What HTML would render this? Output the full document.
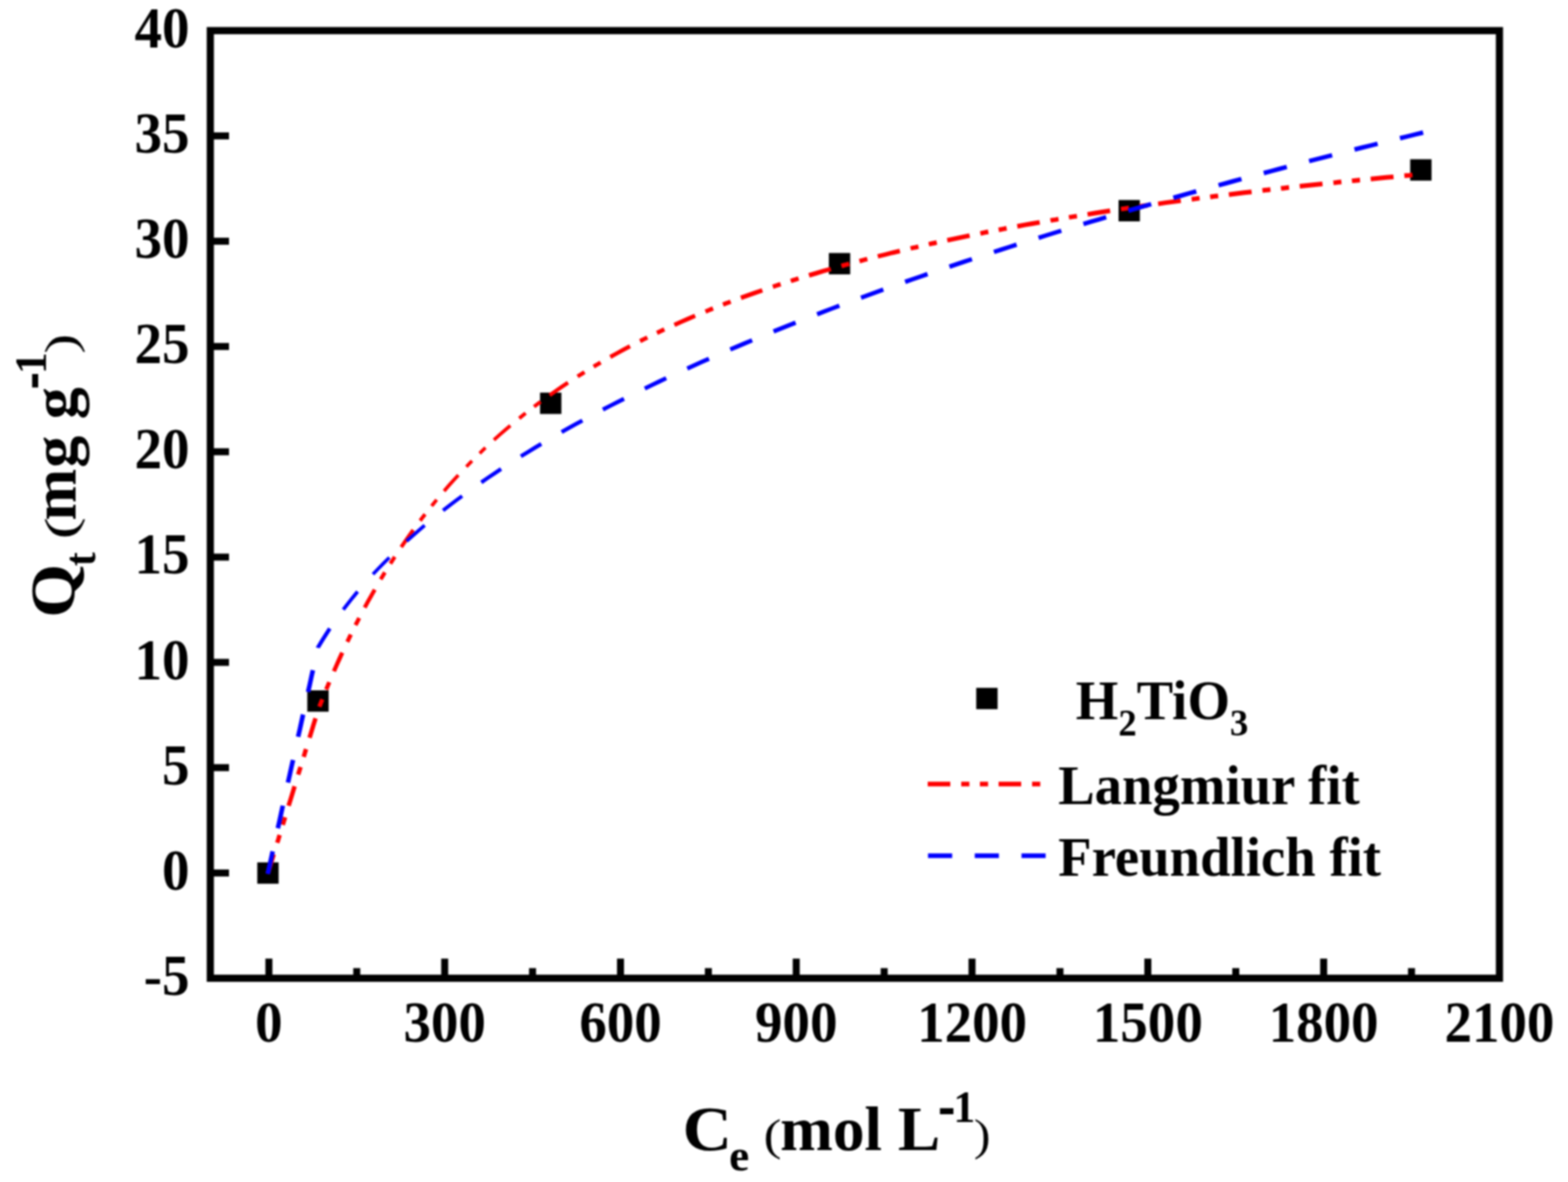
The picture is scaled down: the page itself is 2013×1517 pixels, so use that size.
<!DOCTYPE html>
<html lang="en"><head><meta charset="utf-8"><title>Adsorption isotherm</title>
<style>
html,body{margin:0;padding:0;background:#fff;}
body{width:2013px;height:1517px;overflow:hidden;}
svg{display:block;filter:blur(0.8px);}
text{font-family:"Liberation Serif","DejaVu Serif",serif;font-weight:bold;fill:#000;}
.r{font-weight:normal;}
</style></head><body>
<svg width="2013" height="1517" viewBox="0 0 2013 1517">
<rect width="2013" height="1517" fill="#fff"/>
<g id="markers" fill="#000">
<rect x="330.3" y="1106.8" width="27.4" height="27.4"/>
<rect x="394.5" y="886.0" width="27.4" height="27.4"/>
<rect x="693.3" y="503.9" width="27.4" height="27.4"/>
<rect x="1064.1" y="324.7" width="27.4" height="27.4"/>
<rect x="1436.0" y="256.7" width="27.4" height="27.4"/>
<rect x="1810.4" y="204.4" width="27.4" height="27.4"/>
</g>
<g id="langmuir" fill="none" stroke="#f00">
<path stroke-width="4.4" d="M598.7,598.9L601.1,596.4L603.6,593.9L606.0,591.4M615.8,581.8L618.3,579.4L620.8,576.9L623.3,574.6"/>
<path stroke-width="4.5" d="M570.1,630.2L576.1,623.3L582.2,616.5L588.4,609.8M634.1,564.6L641.0,558.4L648.1,552.2L655.2,546.2"/>
<path stroke-width="4.6" d="M554.1,649.4L556.3,646.7L558.4,644.1L560.6,641.4"/>
<path stroke-width="4.7" d="M666.6,536.8L669.4,534.6L672.1,532.4L674.8,530.2"/>
<path stroke-width="4.8" d="M539.4,668.2L541.5,665.4L543.6,662.7L545.7,660.0M685.6,521.9L688.4,519.8L691.2,517.7L694.0,515.6"/>
<path stroke-width="4.9" d="M515.1,702.2L520.1,694.8L525.3,687.5L530.5,680.2"/>
<path stroke-width="5.0" d="M501.2,723.3L503.1,720.4L505.0,717.5L506.8,714.6M705.7,507.2L713.5,501.7L721.3,496.4L729.2,491.1"/>
<path stroke-width="5.1" d="M488.7,743.5L490.5,740.6L492.3,737.6L494.1,734.7M741.5,483.2L744.4,481.3L747.4,479.5L750.4,477.6"/>
<path stroke-width="5.2" d="M468.2,779.8L472.4,772.1L476.7,764.4L481.1,756.7M762.1,470.5L765.1,468.7L768.1,467.0L771.1,465.2"/>
<path stroke-width="5.3" d="M456.4,802.3L458.0,799.2L459.6,796.2L461.1,793.1M783.5,458.1L791.9,453.5L800.3,448.9L808.8,444.4"/>
<path stroke-width="5.4" d="M445.9,823.7L447.4,820.6L448.9,817.5L450.4,814.4M821.7,437.8L824.8,436.3L828.0,434.7L831.1,433.2M843.4,427.2L846.6,425.7L849.7,424.2L852.9,422.7"/>
<path stroke-width="5.5" d="M418.8,885.0L420.1,881.8L421.4,878.7L422.7,875.5M428.7,861.5L432.2,853.5L435.8,845.5L439.4,837.6M865.8,416.9L874.6,412.9L883.5,409.1L892.4,405.3"/>
<path stroke-width="5.6" d="M410.0,907.1L411.2,903.9L412.5,900.7L413.8,897.5M905.7,399.8L909.0,398.5L912.2,397.2L915.4,395.9M928.2,390.9L931.4,389.7L934.7,388.5L938.0,387.2"/>
<path stroke-width="5.7" d="M343.7,1121.4L346.2,1113.1L348.8,1104.8L351.4,1096.4M355.9,1081.6L357.0,1078.3L358.0,1075.0L359.0,1071.6M363.0,1058.7L364.0,1055.4L365.0,1052.1L366.0,1048.8M370.5,1034.1L373.1,1025.8L375.7,1017.4L378.2,1009.1M382.8,994.2L383.8,990.9L384.8,987.6L385.9,984.3M389.9,971.4L390.9,968.0L391.9,964.7L392.9,961.4M397.4,946.8L400.0,938.4L402.5,930.1L405.1,921.8M951.2,382.3L960.3,379.0L969.5,375.8L978.7,372.6M992.2,368.0L995.6,366.9L998.9,365.8L1002.2,364.8M1015.2,360.6L1018.6,359.5L1021.9,358.5L1025.2,357.4"/>
<path stroke-width="5.8" d="M1038.6,353.4L1048.0,350.6L1057.3,347.8L1066.6,345.2M1080.2,341.4L1083.6,340.4L1086.9,339.5L1090.3,338.6M1103.4,335.1L1106.8,334.2L1110.1,333.3L1113.5,332.5M1126.9,329.0L1136.4,326.7L1145.8,324.3L1155.3,322.1M1169.0,318.8L1172.4,318.0L1175.8,317.3L1179.1,316.5"/>
<path stroke-width="5.9" d="M1192.4,313.5L1195.8,312.7L1199.2,312.0L1202.6,311.2M1216.1,308.3L1225.7,306.3L1235.2,304.3L1244.8,302.3M1258.6,299.6L1262.0,298.9L1265.4,298.2L1268.8,297.5M1282.1,295.0L1285.5,294.3L1288.9,293.7L1292.3,293.0M1306.0,290.5L1315.6,288.7L1325.2,287.0L1334.8,285.3M1348.6,282.9L1352.0,282.3L1355.5,281.8L1358.9,281.2M1372.3,278.9L1375.7,278.4L1379.1,277.8L1382.6,277.3M1396.2,275.1L1405.9,273.5L1415.5,272.0L1425.2,270.5M1439.1,268.4L1442.5,267.9L1445.9,267.4L1449.4,266.9M1462.8,265.0L1466.3,264.5L1469.7,264.0L1473.1,263.5M1486.8,261.6L1496.5,260.2L1506.2,258.9L1515.9,257.6M1529.8,255.7L1533.2,255.3L1536.7,254.8L1540.1,254.4"/>
<path stroke-width="6.0" d="M1553.6,252.7L1557.0,252.2L1560.5,251.8L1563.9,251.4M1577.6,249.7L1587.3,248.5L1597.1,247.3L1606.8,246.2M1620.7,244.5L1624.1,244.1L1627.6,243.7L1631.0,243.3M1644.5,241.8L1648.0,241.4L1651.4,241.0L1654.9,240.6M1668.6,239.1L1678.3,238.1L1688.1,237.0L1697.8,236.0M1711.8,234.5L1715.2,234.2L1718.6,233.8L1722.1,233.5M1735.6,232.1L1739.1,231.8L1742.5,231.4L1746.0,231.1M1759.7,229.7L1769.5,228.8L1779.2,227.8L1789.0,226.9M1802.9,225.6L1806.4,225.3L1809.8,225.0L1813.3,224.6"/>
</g>
<g id="freundlich" fill="none" stroke="#00f">
<path stroke-width="4.4" d="M478.8,737.1L485.7,729.8L492.7,722.6L499.8,715.5"/>
<path stroke-width="4.5" d="M522.0,694.5L529.7,687.7L537.4,681.0L545.2,674.3"/>
<path stroke-width="4.7" d="M440.7,782.4L446.7,774.6L452.8,766.9L459.1,759.3"/>
<path stroke-width="4.8" d="M568.8,655.1L576.9,648.9L585.1,642.7L593.3,636.6"/>
<path stroke-width="5.0" d="M617.9,619.1L626.3,613.3L634.8,607.6L643.3,601.9"/>
<path stroke-width="5.1" d="M408.1,831.5L408.2,831.0L412.9,823.1L418.1,814.8L423.4,806.6M668.7,585.7L677.4,580.3L686.1,575.0L694.9,569.7"/>
<path stroke-width="5.2" d="M721.0,554.6L729.8,549.6L738.8,544.6L747.7,539.7"/>
<path stroke-width="5.3" d="M774.0,525.7L783.0,521.0L792.1,516.4L801.1,511.8"/>
<path stroke-width="5.4" d="M827.8,498.6L837.0,494.1L846.1,489.7L855.3,485.4"/>
<path stroke-width="5.5" d="M882.3,472.9L891.6,468.7L900.9,464.5L910.2,460.4M937.5,448.5L946.8,444.6L956.2,440.6L965.6,436.7"/>
<path stroke-width="5.6" d="M993.1,425.4L1002.5,421.6L1011.9,417.8L1021.4,414.1M1049.0,403.3L1058.5,399.6L1068.0,396.0L1077.6,392.4M1105.4,382.1L1114.9,378.6L1124.5,375.2L1134.0,371.7"/>
<path stroke-width="5.7" d="M1162.0,361.8L1171.6,358.4L1181.2,355.1L1190.8,351.8M1218.9,342.2L1228.5,339.0L1238.2,335.8L1247.8,332.6M1276.0,323.4L1285.7,320.2L1295.4,317.1L1305.1,314.0M1333.3,305.2L1343.1,302.1L1352.8,299.1L1362.5,296.1M1390.9,287.5L1400.6,284.6L1410.4,281.7L1420.1,278.8"/>
<path stroke-width="5.8" d="M1448.6,270.4L1458.3,267.6L1468.1,264.8L1477.9,262.0M1506.4,253.9L1516.2,251.1L1526.0,248.3L1535.8,245.6M1564.4,237.7L1574.2,235.1L1584.0,232.4L1593.8,229.7M1622.4,222.1L1632.3,219.5L1642.1,216.9L1652.0,214.3M1680.6,206.8L1690.5,204.3L1700.4,201.7L1710.2,199.2M1738.9,191.9L1748.8,189.4L1758.7,187.0L1768.6,184.5M1797.3,177.4L1807.2,175.0L1817.1,172.5L1827.0,170.1"/>
<path stroke-width="5.9" d="M343.7,1121.7L345.9,1112.0L348.0,1102.4L350.1,1092.7M356.7,1063.0L358.9,1053.3L361.0,1043.7L363.1,1034.0M369.7,1004.3L371.9,994.7L374.0,985.0L376.2,975.4M382.7,945.6L384.9,936.1L387.0,926.5L389.1,917.0M395.5,888.2L397.6,878.8L399.6,869.5L401.7,860.1"/>
</g>
<rect x="270.0" y="39.3" width="1655.0" height="1216.2" fill="none" stroke="#000" stroke-width="9.2"/>
<g id="ticks" stroke="#000" stroke-width="9">
<line x1="270.0" y1="1120.4" x2="294.0" y2="1120.4"/>
<line x1="270.0" y1="985.2" x2="294.0" y2="985.2"/>
<line x1="270.0" y1="850.1" x2="294.0" y2="850.1"/>
<line x1="270.0" y1="715.0" x2="294.0" y2="715.0"/>
<line x1="270.0" y1="579.8" x2="294.0" y2="579.8"/>
<line x1="270.0" y1="444.7" x2="294.0" y2="444.7"/>
<line x1="270.0" y1="309.6" x2="294.0" y2="309.6"/>
<line x1="270.0" y1="174.4" x2="294.0" y2="174.4"/>
<line x1="345.2" y1="1255.5" x2="345.2" y2="1230.3"/>
<line x1="570.9" y1="1255.5" x2="570.9" y2="1230.3"/>
<line x1="796.6" y1="1255.5" x2="796.6" y2="1230.3"/>
<line x1="1022.2" y1="1255.5" x2="1022.2" y2="1230.3"/>
<line x1="1247.9" y1="1255.5" x2="1247.9" y2="1230.3"/>
<line x1="1473.6" y1="1255.5" x2="1473.6" y2="1230.3"/>
<line x1="1699.3" y1="1255.5" x2="1699.3" y2="1230.3"/>
<line x1="458.0" y1="1255.5" x2="458.0" y2="1242.5"/>
<line x1="683.7" y1="1255.5" x2="683.7" y2="1242.5"/>
<line x1="909.4" y1="1255.5" x2="909.4" y2="1242.5"/>
<line x1="1135.1" y1="1255.5" x2="1135.1" y2="1242.5"/>
<line x1="1360.8" y1="1255.5" x2="1360.8" y2="1242.5"/>
<line x1="1586.5" y1="1255.5" x2="1586.5" y2="1242.5"/>
<line x1="1812.1" y1="1255.5" x2="1812.1" y2="1242.5"/>
</g>
<text transform="translate(243.20,1277.00) scale(0.98,1.025)" font-size="72" text-anchor="end">-5</text>
<text transform="translate(243.20,1141.87) scale(0.98,1.025)" font-size="72" text-anchor="end">0</text>
<text transform="translate(243.20,1006.73) scale(0.98,1.025)" font-size="72" text-anchor="end">5</text>
<text transform="translate(243.20,871.60) scale(0.98,1.025)" font-size="72" text-anchor="end">10</text>
<text transform="translate(243.20,736.47) scale(0.98,1.025)" font-size="72" text-anchor="end">15</text>
<text transform="translate(243.20,601.33) scale(0.98,1.025)" font-size="72" text-anchor="end">20</text>
<text transform="translate(243.20,466.20) scale(0.98,1.025)" font-size="72" text-anchor="end">25</text>
<text transform="translate(243.20,331.07) scale(0.98,1.025)" font-size="72" text-anchor="end">30</text>
<text transform="translate(243.20,195.93) scale(0.98,1.025)" font-size="72" text-anchor="end">35</text>
<text transform="translate(243.20,60.80) scale(0.98,1.025)" font-size="72" text-anchor="end">40</text>
<text transform="translate(345.20,1337.00) scale(0.98,1.025)" font-size="72" text-anchor="middle">0</text>
<text transform="translate(570.88,1337.00) scale(0.98,1.025)" font-size="72" text-anchor="middle">300</text>
<text transform="translate(796.56,1337.00) scale(0.98,1.025)" font-size="72" text-anchor="middle">600</text>
<text transform="translate(1022.25,1337.00) scale(0.98,1.025)" font-size="72" text-anchor="middle">900</text>
<text transform="translate(1247.93,1337.00) scale(0.98,1.025)" font-size="72" text-anchor="middle">1200</text>
<text transform="translate(1473.61,1337.00) scale(0.98,1.025)" font-size="72" text-anchor="middle">1500</text>
<text transform="translate(1699.29,1337.00) scale(0.98,1.025)" font-size="72" text-anchor="middle">1800</text>
<text transform="translate(1924.97,1337.00) scale(0.98,1.025)" font-size="72" text-anchor="middle">2100</text>
<rect x="1253.3" y="882.8" width="27.4" height="27.4" fill="#000"/>
<path d="M1191,1006.2 H1338" fill="none" stroke="#f00" stroke-width="5.9" stroke-dasharray="29 14 10.5 13.5 10.5 13.5"/>
<path d="M1191.4,1098.2 H1345" fill="none" stroke="#00f" stroke-width="5.9" stroke-dasharray="31 29"/>
<text transform="translate(1381.00,923.00) scale(1.004,1.015)" font-size="70">H<tspan font-size="47" dy="20.5">2</tspan><tspan dy="-20.5">TiO</tspan><tspan font-size="47" dy="20.5">3</tspan></text>
<text transform="translate(1358.50,1031.80) scale(1.004,1.015)" font-size="70">Langmiur fit</text>
<text transform="translate(1358.50,1123.80) scale(1.004,1.015)" font-size="70">Freundlich fit</text>
<g id="xtitle">
<text transform="translate(876.30,1475.80) scale(1.1,1)" font-size="80">C</text>
<text transform="translate(936.00,1502.30) scale(1.04,1)" font-size="56">e</text>
<text transform="translate(980.30,1475.80) scale(1.2,1)" font-size="57.3" class="r">(</text>
<text transform="translate(1001.40,1475.80) scale(1.017,1)" font-size="80">mol L</text>
<text transform="translate(1204.30,1447.50) scale(0.74,1)" font-size="90">-</text>
<text transform="translate(1224.00,1439.50)" font-size="56">1</text>
<text transform="translate(1250.30,1475.80) scale(1.12,1)" font-size="57.3" class="r">)</text>
</g>
<g id="ytitle" transform="translate(95.3,791) rotate(-90)">
<text transform="translate(-1.70,0.00) scale(1.11,1)" font-size="80">Q</text>
<text transform="translate(64.50,26.50) scale(0.95,1)" font-size="56">t</text>
<text transform="translate(98.70,1.50) scale(1.5,1)" font-size="57.3" class="r">(</text>
<text transform="translate(122.80,1.20)" font-size="80">m</text>
<text transform="translate(190.60,2.50) scale(1.036,1)" font-size="80">g g</text>
<text transform="translate(291.30,-28.20) scale(0.74,1)" font-size="90">-</text>
<text transform="translate(311.00,-36.30)" font-size="56">1</text>
<text transform="translate(337.00,2.00) scale(1.35,1)" font-size="57.3" class="r">)</text>
</g>
</svg></body></html>
